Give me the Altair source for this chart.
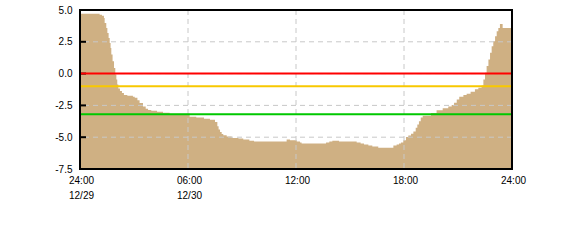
import altair as alt
import pandas as pd

# ---- data ----
hours = [0.00, 1.09, 1.22, 1.33, 1.37, 1.46, 1.52, 1.59, 1.65, 1.70, 1.74, 1.81, 1.89, 1.96,
         2.02, 2.07, 2.13, 2.22, 2.33, 2.44, 2.63, 2.94, 3.04, 3.19, 3.31, 3.50, 3.65, 3.78,
         3.96, 4.28, 4.61, 4.98, 6.09, 6.46, 6.89, 7.22, 7.50, 7.63, 7.70, 7.78, 7.87, 7.96,
         8.15, 8.43, 8.80, 9.07, 9.41, 9.67, 11.48, 11.67, 12.04, 12.22, 12.31, 13.67, 13.85,
         14.02, 14.39, 15.37, 15.59, 15.78, 16.02, 16.24, 16.57, 17.41, 17.59, 17.72, 17.83,
         17.96, 18.11, 18.24, 18.39, 18.52, 18.65, 18.74, 18.83, 18.93, 19.04, 19.50, 19.81,
         20.15, 20.46, 20.65, 20.78, 20.93, 21.07, 21.30, 21.48, 21.70, 21.94, 22.13, 22.31,
         22.41, 22.50, 22.59, 22.69, 22.78, 22.87, 22.96, 23.06, 23.15, 23.24, 23.33, 23.48,
         24.00]
levels = [4.71, 4.63, 4.55, 4.37, 3.98, 3.59, 3.20, 2.80, 2.41, 2.02, 1.50, 0.98, 0.45, -0.07,
          -0.46, -0.85, -1.17, -1.37, -1.53, -1.69, -1.74, -1.82, -1.90, -2.10, -2.31, -2.58, -2.76, -2.86,
          -2.92, -2.99, -3.07, -3.15, -3.39, -3.46, -3.54, -3.62, -3.80, -4.14, -4.40, -4.59, -4.74, -4.85,
          -4.95, -5.06, -5.11, -5.19, -5.27, -5.34, -5.19, -5.24, -5.34, -5.42, -5.50, -5.42, -5.34,
          -5.27, -5.34, -5.42, -5.50, -5.58, -5.66, -5.74, -5.82, -5.66, -5.58, -5.50, -5.42,
          -5.24, -4.99, -4.86, -4.73, -4.55, -4.26, -4.00, -3.74, -3.46, -3.31, -3.10, -2.89,
          -2.73, -2.58, -2.47, -2.29, -2.03, -1.82, -1.69, -1.58, -1.43, -1.24, -1.11, -0.93,
          -0.46, 0.06, 0.59, 1.10, 1.63, 2.15, 2.55, 2.94, 3.33, 3.59, 3.90, 3.59,
          3.59]
area_floor = -7.5

threshold_values = [0.0, -1.0, -3.2]
threshold_colors = ["#FF0000", "#F8C800", "#00C800"]

x_ticks = [0, 6, 12, 18, 24]
x_time_labels = ["24:00", "06:00", "12:00", "18:00", "24:00"]
x_date_labels = ["12/29", "12/30", "", "", ""]
y_ticks = [-7.5, -5.0, -2.5, 0.0, 2.5, 5.0]
y_labels = ["-7.5", "-5.0", "-2.5", "0.0", "2.5", "5.0"]

W, H = 432, 159

# ---- label expressions built from the lists ----
parts = []
for v, t, d in zip(x_ticks, x_time_labels, x_date_labels):
    lab = f"['{t}','{d}']" if d else f"'{t}'"
    parts.append(f"datum.value == {v} ? {lab}")
x_expr = " : ".join(parts) + " : ''"
yparts = [f"abs(datum.value - ({v})) < 0.01 ? '{l}'" for v, l in zip(y_ticks, y_labels)]
y_expr = " : ".join(yparts) + " : ''"

x_scale = alt.Scale(domain=[0, 24], nice=False, zero=False)
y_scale = alt.Scale(domain=[-7.5, 5.0], nice=False, zero=False)
x_axis = alt.Axis(values=x_ticks, labelExpr=x_expr, title=None, grid=False, ticks=False,
                  tickSize=0, domain=False, labelPadding=6, labelLineHeight=15,
                  labelFlush=False, labelOverlap=False, labelOffset=1,
                  labelBaseline="top")
y_axis = alt.Axis(values=y_ticks, labelExpr=y_expr, title=None, grid=False, ticks=False,
                  tickSize=0, domain=False, labelPadding=8, labelOverlap=False,
                  labelFlush=False)

df = pd.DataFrame({"h": hours, "v": levels, "base": [area_floor] * len(hours)})

area = alt.Chart(df).mark_area(interpolate="step-after", color="#CFB083").encode(
    x=alt.X("h:Q", scale=x_scale, axis=x_axis),
    y=alt.Y("v:Q", scale=y_scale, axis=y_axis),
    y2="base:Q",
)

grid_x = alt.Chart(pd.DataFrame({"h": x_ticks[1:-1]})).mark_rule(
    color="#C8C8C8", strokeWidth=1, strokeDash=[5, 4]
).encode(x=alt.X("h:Q", scale=x_scale, axis=x_axis))

grid_y = alt.Chart(pd.DataFrame({"v": y_ticks[1:-1]})).mark_rule(
    color="#C8C8C8", strokeWidth=1, strokeDash=[5, 4]
).encode(y=alt.Y("v:Q", scale=y_scale, axis=y_axis))

ticks = alt.Chart(pd.DataFrame({"v": y_ticks})).mark_rule(
    color="black", strokeWidth=2
).encode(y=alt.Y("v:Q", scale=y_scale, axis=y_axis), x=alt.value(0), x2=alt.value(6))

thr = alt.Chart(pd.DataFrame({"v": threshold_values, "c": threshold_colors})).mark_rule(
    strokeWidth=2
).encode(y=alt.Y("v:Q", scale=y_scale, axis=y_axis), color=alt.Color("c:N", scale=None))

frame = alt.Chart(pd.DataFrame({"a": [0]})).mark_rect(
    filled=False, stroke="black", strokeWidth=2
).encode(x=alt.value(0), x2=alt.value(W), y=alt.value(0), y2=alt.value(H))

chart = alt.layer(area, grid_x, grid_y, ticks, thr, frame).properties(
    width=W, height=H,
    autosize="none",
    padding={"left": 80, "top": 10, "right": 58, "bottom": 71},
).configure_view(stroke=None).configure_axis(
    labelFont="Liberation Sans", labelFontSize=12, labelColor="black"
).configure(background="white")

chart.save("out.html", embed_options={"renderer": "svg", "actions": False})
